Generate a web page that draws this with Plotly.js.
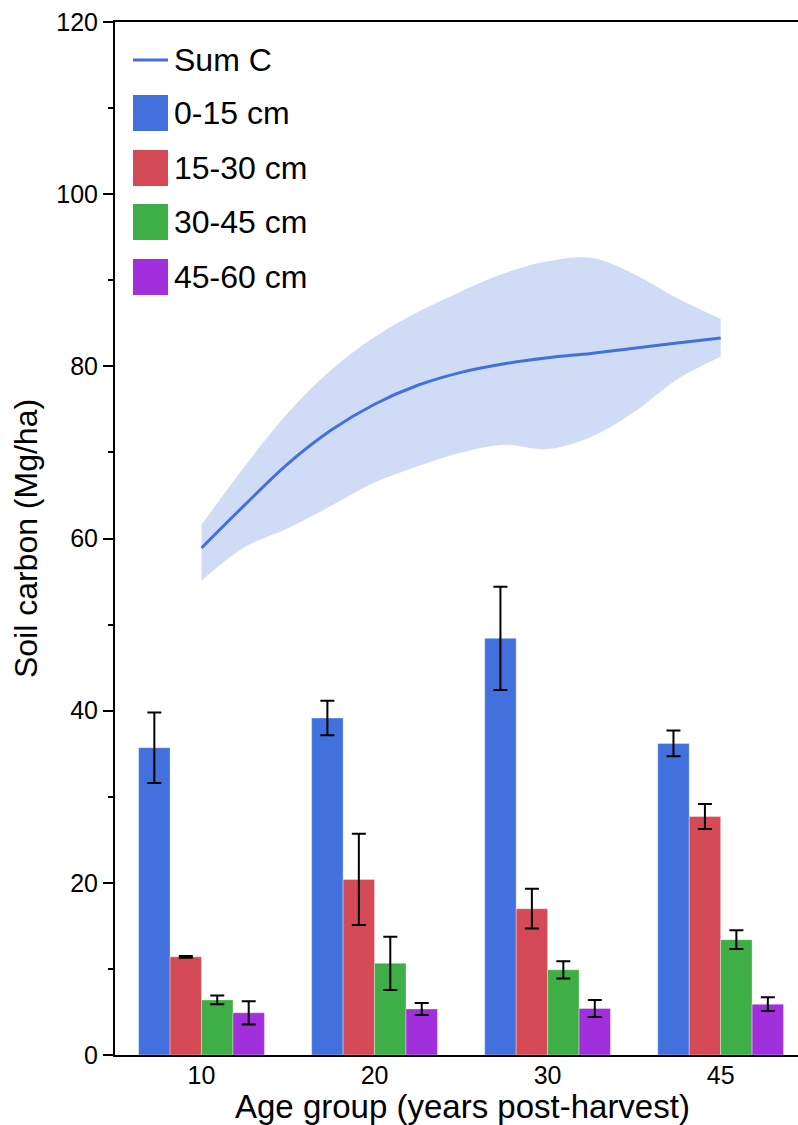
<!DOCTYPE html>
<html>
<head>
<meta charset="utf-8">
<script src="https://cdn.plot.ly/plotly-3.0.1.min.js"></script>
<style>
  html, body { margin: 0; padding: 0; background: #fff; overflow: hidden; }
  #chart { width: 798px; height: 1125px; }
</style>
</head>
<body>
<div id="chart"></div>
<script>
// ---- Data ----
const categories = ["10", "20", "30", "45"];
const seriesNames = ["0-15 cm", "15-30 cm", "30-45 cm", "45-60 cm"];
const depth0_15 = [35.7, 39.15, 48.4, 36.2];
const depth0_15Err = [4.1, 2.0, 6.0, 1.5];
const depth15_30 = [11.4, 20.4, 17.0, 27.7];
const depth15_30Err = [0.1, 5.3, 2.3, 1.45];
const depth30_45 = [6.4, 10.65, 9.9, 13.4];
const depth30_45Err = [0.5, 3.1, 1.0, 1.1];
const depth45_60 = [4.9, 5.35, 5.4, 5.9];
const depth45_60Err = [1.35, 0.7, 1.0, 0.8];

// Smoothed total carbon (Sum C) along the age-group axis (category index units)
const sumPos = [0, 0.25, 0.5, 0.75, 1, 1.25, 1.5, 1.75, 2, 2.25, 2.5, 2.75, 3];
const sumC = [58.9, 63.9, 68.7, 72.6, 75.6, 77.8, 79.3, 80.3, 81.0, 81.5, 82.1, 82.7, 83.3];
const sumUpper = [61.6, 68.4, 74.6, 79.6, 83.4, 86.3, 88.7, 90.8, 92.2, 92.6, 90.7, 87.9, 85.5];
const sumLower = [55.1, 59.0, 61.2, 63.8, 66.5, 68.4, 70.0, 70.9, 70.4, 71.8, 74.7, 78.5, 81.1];

// ---- Styles ----
const colors = ["#4270dc", "#d54a57", "#3eae46", "#a12fdc"];
const lineColor = "#4270dc";
const bandColor = "#d0dcf5";
const FONT = "Liberation Sans, Arial, Helvetica, sans-serif";

const catIdx = categories.map((c, i) => i);
const barVals = [depth0_15, depth15_30, depth30_45, depth45_60];
const barErrs = [depth0_15Err, depth15_30Err, depth30_45Err, depth45_60Err];

const traces = [];
traces.push({
  x: sumPos, y: sumLower, type: "scatter", mode: "lines",
  line: { width: 0, shape: "spline", smoothing: 1, color: bandColor },
  showlegend: false, hoverinfo: "skip"
});
traces.push({
  x: sumPos, y: sumUpper, type: "scatter", mode: "lines",
  line: { width: 0, shape: "spline", smoothing: 1, color: bandColor },
  fill: "tonexty", fillcolor: bandColor,
  showlegend: false, hoverinfo: "skip"
});
barVals.forEach((vals, k) => {
  traces.push({
    x: catIdx, y: vals, type: "bar", name: seriesNames[k],
    marker: { color: colors[k], line: { color: "rgba(255,255,255,0.35)", width: 1 } },
    error_y: { type: "data", array: barErrs[k], visible: true, color: "#000", thickness: 2, width: 7 },
    showlegend: false
  });
});
traces.push({
  x: sumPos, y: sumC, type: "scatter", mode: "lines", name: "Sum C",
  line: { width: 3, shape: "spline", smoothing: 1, color: lineColor },
  showlegend: false
});

// ---- Layout geometry (pixels) ----
const W = 798, H = 1125;
const M = { l: 115, r: 0, t: 22, b: 70 };
const pw = W - M.l - M.r, ph = H - M.t - M.b;
const px = (x) => (x - M.l) / pw;
const py = (y) => (H - M.b - y) / ph;

// custom legend
const legendItems = [
  { label: "Sum C", kind: "line", color: lineColor, yc: 60 },
  { label: seriesNames[0], kind: "box", color: colors[0], yc: 113 },
  { label: seriesNames[1], kind: "box", color: colors[1], yc: 168 },
  { label: seriesNames[2], kind: "box", color: colors[2], yc: 222 },
  { label: seriesNames[3], kind: "box", color: colors[3], yc: 277 }
];
const shapes = [];
const annotations = [];
legendItems.forEach(it => {
  if (it.kind === "line") {
    shapes.push({ type: "line", xref: "paper", yref: "paper",
      x0: px(133), x1: px(168), y0: py(it.yc), y1: py(it.yc),
      line: { color: it.color, width: 3 } });
  } else {
    shapes.push({ type: "rect", xref: "paper", yref: "paper",
      x0: px(133), x1: px(168), y0: py(it.yc - 18), y1: py(it.yc + 18),
      fillcolor: it.color, line: { width: 0 } });
  }
  annotations.push({ xref: "paper", yref: "paper", x: px(172), y: py(it.yc),
    xanchor: "left", yanchor: "middle", text: it.label, showarrow: false,
    font: { family: FONT, size: 32, color: "#000" } });
});

// x-axis title as annotation (placed under tick labels)
annotations.push({ xref: "paper", yref: "paper", x: px(462), y: py(1127),
  xanchor: "center", yanchor: "bottom", text: "Age group (years post-harvest)",
  showarrow: false, font: { family: FONT, size: 33, color: "#000" } });

const layout = {
  width: W, height: H,
  margin: M,
  paper_bgcolor: "#fff", plot_bgcolor: "#fff",
  font: { family: FONT, color: "#000" },
  barmode: "group", bargap: 0.273, bargroupgap: 0,
  showlegend: false,
  xaxis: {
    type: "linear", range: [-0.5, 3.447],
    tickmode: "array", tickvals: catIdx, ticktext: categories,
    showgrid: false, zeroline: false,
    showline: true, linecolor: "#000", linewidth: 2, mirror: true,
    ticks: "", tickfont: { family: FONT, size: 25, color: "#000" },
    ticklabelstandoff: -3,
    automargin: false
  },
  yaxis: {
    range: [0, 120], tickvals: [0, 20, 40, 60, 80, 100, 120],
    showgrid: false, zeroline: false,
    showline: true, linecolor: "#000", linewidth: 2,
    ticks: "outside", ticklen: 10, tickwidth: 2, tickcolor: "#000",
    minor: { tickvals: [10, 30, 50, 70, 90, 110], ticks: "outside", ticklen: 5, tickwidth: 2, tickcolor: "#000", showgrid: false },
    tickfont: { family: FONT, size: 25, color: "#000" },
    title: { text: "Soil carbon (Mg/ha)", font: { family: FONT, size: 32, color: "#000" }, standoff: 9 },
    automargin: false
  },
  shapes: shapes,
  annotations: annotations
};

Plotly.newPlot("chart", traces, layout, { displayModeBar: false, staticPlot: true });
</script>
</body>
</html>
